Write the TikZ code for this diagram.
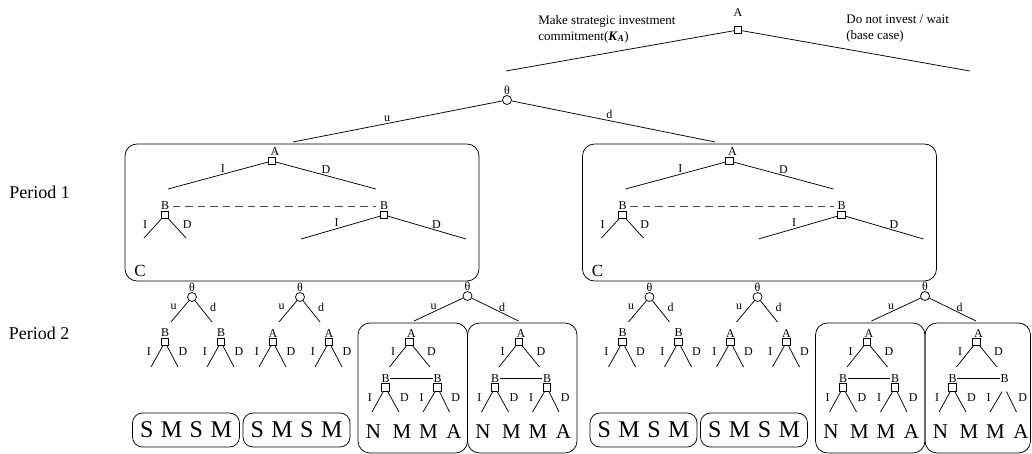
\documentclass[tikz,border=0pt]{standalone}
\usepackage{fontspec}
\setmainfont{Liberation Serif}
\usetikzlibrary{positioning}

\begin{document}
\begin{tikzpicture}[x=1pt, y=-1pt, line width=0.75pt,
    every node/.style={font=\fontsize{12}{14}\selectfont},
    dec/.style={draw, rectangle, fill=white, minimum size=7.5pt, inner sep=0pt},
    chance/.style={draw, circle, fill=white, minimum size=9pt, inner sep=0pt,
        label={[inner sep=0.5pt]above:θ}},
    lbl/.style={inner sep=0.5pt},
    frame/.style={draw, rounded corners=12pt},
    outbox/.style={draw, rounded corners=10pt, minimum width=107pt,
        minimum height=34pt, inner sep=0pt, font=\fontsize{24}{26}\selectfont},
    leaf/.style={inner sep=0pt, font=\fontsize{21}{23}\selectfont},
    period/.style={anchor=west, inner sep=0pt, font=\fontsize{18}{20}\selectfont},
    note/.style={anchor=west, align=left, inner sep=0pt, font=\fontsize{13}{16}\selectfont}
    ]
\useasboundingbox (0,0) rectangle (1032,454);

% first move of A
\node[dec, label={[lbl, label distance=8pt]above:A}] (A0) at (738,30) {};
\node[note] (invest) at (538,29) {Make strategic investment\\commitment(\textbf{\textit{K}}\textsubscript{\textbf{\textit{A}}})};
\node[note] (wait) at (846,29) {Do not invest / wait\\(base case)};
\coordinate (investEnd) at (506,71);
\coordinate (waitEnd) at (970,71);
\path (A0) edge (investEnd)
           edge (waitEnd);

% nature
\node[chance] (N0) at (507,100) {};
\coordinate (up) at (293,142);
\coordinate (down) at (715,142);
\path (N0) edge node[lbl, above=1pt, pos=.55] {u} (up)
           edge node[lbl, above=1pt, pos=.48] {d} (down);

\node[period] (per1) at (9,192) {Period 1};
\node[period] (per2) at (8.5,333) {Period 2};

\foreach \sh/\side/\lastsq/\lastr in {0/L/1/577, 457.5/R/0/573} {
\begin{scope}[xshift=\sh]
  % period 1
  \draw[frame] (125,144) rectangle (479,281);
  \node[inner sep=0pt, font=\fontsize{17}{19}\selectfont] (C\side) at (140,271) {C};
  \node[dec, label={[lbl, xshift=3pt]above:A}] (PA\side) at (272,161) {};
  \coordinate (PAi\side) at (168,189);
  \coordinate (PAd\side) at (376,189);
  \path (PA\side) edge node[lbl, above=1pt, pos=.45] {I} (PAi\side)
                  edge node[lbl, above=1pt, pos=.5] {D} (PAd\side);
  \node[dec, label={[lbl, name=PBil\side]above:B}] (PBi\side) at (165,215) {};
  \node[dec, label={[lbl, name=PBdl\side]above:B}] (PBd\side) at (384,215) {};
  \draw[black!70, dash pattern=on 7.5pt off 5pt, shorten <=3pt, shorten >=3pt]
    (PBil\side.east) -- (PBdl\side.west);
  \coordinate (PBii\side) at (144,238);
  \coordinate (PBid\side) at (186,238);
  \coordinate (PBdi\side) at (301,239);
  \coordinate (PBdd\side) at (466,239);
  \path (PBi\side) edge node[lbl, left=8pt, pos=.3] {I} (PBii\side)
                   edge node[lbl, right=8pt, pos=.3] {D} (PBid\side);
  \path (PBd\side) edge node[lbl, above=1pt, pos=.55] {I} (PBdi\side)
                   edge node[lbl, above=1pt, pos=.62] {D} (PBdd\side);

  % period 2, simple branches
  \foreach \x/\who/\num in {192/B/1, 300/A/2} {
    \node[chance] (th\side\num) at (\x,297) {};
    \coordinate (thu\side\num) at (\x-21,322);
    \coordinate (thd\side\num) at (\x+20,322);
    \path (th\side\num) edge node[lbl, left=6pt, pos=.3] {u} (thu\side\num)
                        edge node[lbl, right=9pt, pos=.3] {d} (thd\side\num);
    \foreach \cx/\kid in {-27/1, 29/2} {
      \node[dec, label={[lbl]above:\who}] (ch\side\num\kid) at (\x+\cx,342) {};
      \coordinate (chi\side\num\kid) at (\x+\cx-14,367);
      \coordinate (chd\side\num\kid) at (\x+\cx+13,367);
      \path (ch\side\num\kid) edge node[lbl, left=8pt, pos=.25] {I} (chi\side\num\kid)
                              edge node[lbl, right=8pt, pos=.25] {D} (chd\side\num\kid);
    }
  }
  \foreach \cx/\num in {186/1, 296.5/2}
    \node[outbox] (out\side\num) at (\cx,430) {S\hspace{7.5pt}M\hspace{7.5pt}S\hspace{7.5pt}M};

  % period 2, full game
  \node[chance] (Q\side) at (467.5,296) {};
  \coordinate (Qu\side) at (414,321);
  \coordinate (Qd\side) at (518.5,321);
  \path (Q\side) edge node[lbl, above=1pt, pos=.6] {u} (Qu\side)
                 edge node[lbl, above=1pt, pos=.65] {d} (Qd\side);
  \foreach \bx/\bm/\sq/\rx in {358/a/1/467.5, 467.5/b/\lastsq/\lastr} {
    \draw[frame] (\bx,323) rectangle (\rx,453);
    \node[dec, label={[lbl, xshift=2pt]above:A}] (TA\side\bm) at (\bx+51.5,342) {};
    \coordinate (TAi\side\bm) at (\bx+31.5,367);
    \coordinate (TAd\side\bm) at (\bx+72,367);
    \path (TA\side\bm) edge node[lbl, left=6pt, pos=.25] {I} (TAi\side\bm)
                       edge node[lbl, right=9pt, pos=.25] {D} (TAd\side\bm);
    \node[dec, label={[lbl, name=TBil\side\bm]above:B}] (TBi\side\bm) at (\bx+27.5,387.5) {};
    \node[dec, draw opacity=\sq, label={[lbl, name=TBdl\side\bm]above:B}] (TBd\side\bm) at (\bx+79.5,387.5) {};
    \draw (TBil\side\bm) -- (TBdl\side\bm);
    \coordinate (TBii\side\bm) at (\bx+14,412);
    \coordinate (TBid\side\bm) at (\bx+41,412);
    \coordinate (TBdi\side\bm) at (\bx+65,412);
    \coordinate (TBdd\side\bm) at (\bx+91.5,412);
    \path (TBi\side\bm) edge node[lbl, left=7pt, pos=.3] {I} (TBii\side\bm)
                        edge node[lbl, right=8pt, pos=.3] {D} (TBid\side\bm);
    \path (TBd\side\bm) edge node[lbl, left=7pt, pos=.3] {I} (TBdi\side\bm)
                        edge node[lbl, right=8pt, pos=.3] {D} (TBdd\side\bm);
    \foreach \dx/\ltr/\num in {15.5/N/1, 44/M/2, 70.5/M/3, 96/A/4}
      \node[leaf] (lf\side\bm\num) at (\bx+\dx,432) {\ltr};
  }
\end{scope}
}
\end{tikzpicture}
\end{document}
